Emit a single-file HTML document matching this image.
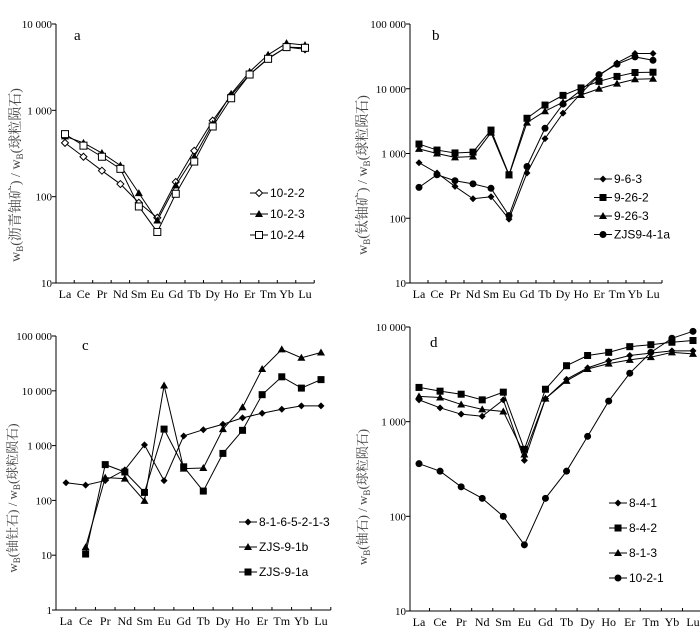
<!DOCTYPE html>
<html><head><meta charset="utf-8">
<style>
html,body{margin:0;padding:0;background:#fff;}
svg{display:block;font-family:"Liberation Serif","Noto Serif CJK SC",serif;}
</style></head>
<body>
<svg id="chart" width="700" height="636" viewBox="0 0 700 636" xmlns="http://www.w3.org/2000/svg"></svg>
<script>
const categories = ["La","Ce","Pr","Nd","Sm","Eu","Gd","Tb","Dy","Ho","Er","Tm","Yb","Lu"];

// Panel a
const a_names = ["10-2-2","10-2-3","10-2-4"];
const a_s1 = [420,290,200,140,85,57,148,340,760,1500,2600,4000,5400,5100];
const a_s2 = [500,420,320,230,110,53,135,290,700,1550,2800,4400,6000,5700];
const a_s3 = [530,390,290,210,77,39,108,255,650,1380,2600,3950,5400,5300];
const a_ticks = ["10","100","1 000","10 000"];

// Panel b
const b_names = ["9-6-3","9-26-2","9-26-3","ZJS9-4-1a"];
const b_s1 = [720,500,310,200,215,97,500,1700,4200,8500,16000,25000,35000,35000];
const b_s2 = [1400,1130,1020,1050,2300,470,3500,5600,7900,10300,13000,15500,17800,18000];
const b_s3 = [1180,1000,870,900,2100,460,3000,4500,6200,8000,10000,12000,14000,14300];
const b_s4 = [300,470,380,340,290,110,630,2450,5800,9500,16500,24000,31000,27500];
const b_ticks = ["10","100","1 000","10 000","100 000"];

// Panel c
const c_names = ["8-1-6-5-2-1-3","ZJS-9-1b","ZJS-9-1a"];
const c_s1 = [210,190,230,360,1030,230,1500,1950,2450,3200,3900,4600,5300,5300];
const c_s2 = [null,14,260,250,98,12500,380,390,2000,5000,25000,57000,40000,50000];
const c_s3 = [null,10.5,450,330,140,2000,410,148,720,1900,8500,18000,11200,16000];
const c_ticks = ["1","10","100","1 000","10 000","100 000"];

// Panel d
const d_names = ["8-4-1","8-4-2","8-1-3","10-2-1"];
const d_s1 = [1700,1400,1200,1140,1700,390,1750,2800,3700,4400,5000,5300,5600,5600];
const d_s2 = [2300,2100,1950,1700,2050,510,2200,3900,5000,5400,6200,6500,6900,7200];
const d_s3 = [1850,1800,1520,1350,1280,450,1750,2700,3600,4100,4500,4800,5400,5200];
const d_s4 = [360,300,205,155,100,50,155,300,700,1650,3250,5400,7600,9000];
const d_ticks = ["10","100","1 000","10 000"];

const NS = "http://www.w3.org/2000/svg";
const svg = document.getElementById("chart");
function mk(tag, attrs, parent){
  const e = document.createElementNS(NS, tag);
  for (const k in attrs) e.setAttribute(k, attrs[k]);
  (parent||svg).appendChild(e);
  return e;
}
function marker(g, type, x, y){
  let m;
  if (type==="diamond") m = mk("polygon",{points:`${x},${y-3.5} ${x+3.5},${y} ${x},${y+3.5} ${x-3.5},${y}`,fill:"#000"},g);
  else if (type==="odiamond") m = mk("polygon",{points:`${x},${y-3.5} ${x+3.5},${y} ${x},${y+3.5} ${x-3.5},${y}`,fill:"#fff",stroke:"#000","stroke-width":1},g);
  else if (type==="tri") m = mk("polygon",{points:`${x},${y-4} ${x+4},${y+3} ${x-4},${y+3}`,fill:"#000"},g);
  else if (type==="square") m = mk("rect",{x:x-3.5,y:y-3.5,width:7,height:7,fill:"#000"},g);
  else if (type==="osquare") m = mk("rect",{x:x-3.5,y:y-3.5,width:7,height:7,fill:"#fff",stroke:"#000","stroke-width":1},g);
  else m = mk("circle",{cx:x,cy:y,r:3.5,fill:"#000"},g);
  
  
}

function panel(p){
  const g = mk("g",{});
  
  
  const dec = p.ticks.length - 1;
  const minExp = Math.log10(parseFloat(p.ticks[0].replace(/ /g,"")));
  const yS = v => p.yBot - (Math.log10(v) - minExp) / dec * (p.yBot - p.yTop);
  const step = (p.xLu - p.xLa) / (categories.length - 1);
  const xS = i => p.xLa + i * step;
  const xEnd = p.xLu + step/2;
  const ya = mk("line",{x1:p.ax,y1:p.yTop,x2:p.ax,y2:p.yBot,stroke:"#000","stroke-width":1},g);
   
  const xa = mk("line",{x1:p.ax,y1:p.yBot,x2:xEnd,y2:p.yBot,stroke:"#000","stroke-width":1},g);
   
  p.ticks.forEach((t,i)=>{
    const y = p.yBot - i/dec*(p.yBot-p.yTop);
    mk("line",{x1:p.ax-4,y1:y,x2:p.ax,y2:y,stroke:"#000"},g);
    const tx = mk("text",{x:p.ax-4,y:y+4,"text-anchor":"end","font-size":11},g);
    tx.textContent = t;
     
  });
  categories.forEach((c,i)=>{
    const bx = xS(i)+step/2;
    mk("line",{x1:bx,y1:p.yBot-3,x2:bx,y2:p.yBot,stroke:"#000"},g);
    const tx = mk("text",{x:xS(i),y:p.yBot+15,"text-anchor":"middle","font-size":12},g);
    tx.textContent = c;
     
  });
  const lt = mk("text",{x:p.lx,y:p.ly,"font-size":15},g);
  lt.textContent = p.letter;
   
  const yt = mk("text",{x:0,y:0,"text-anchor":"middle","font-size":p.tfs,fill:"#444",transform:`translate(${p.tx},${p.ty}) rotate(-90)`},g);
  yt.innerHTML = `w<tspan font-size="9" dy="3">B</tspan><tspan dy="-3">(${p.mineral}) / w</tspan><tspan font-size="9" dy="3">B</tspan><tspan dy="-3">(球粒陨石)</tspan>`;
   
  p.series.forEach((s,k)=>{
    const sg = mk("g",{},g);
    
    
    let d = "", started=false;
    s.forEach((v,i)=>{ if(v==null) return; d += (started?"L":"M")+xS(i)+","+yS(v); started=true; });
    mk("path",{d:d,fill:"none",stroke:"#000","stroke-width":1},sg);
    s.forEach((v,i)=>{ if(v!=null) marker(sg,p.markers[k],xS(i),yS(v)); });
    const ly = p.legY + k*p.legGap;
    const lg = mk("g",{},g);
    
    
    mk("line",{x1:p.legX,y1:ly,x2:p.legX+18,y2:ly,stroke:"#000"},lg);
    marker(lg,p.markers[k],p.legX+9,ly);
    const lt2 = mk("text",{x:p.legX+20,y:ly+4,"font-size":12,"font-family":"Liberation Sans, sans-serif"},lg);
    lt2.textContent = p.names[k];
  });
}

panel({letter:"a",ax:56,yTop:24,yBot:283,xLa:65,xLu:305,ticks:a_ticks,lx:74,ly:40,tx:20,ty:175,tfs:14,mineral:"沥青铀矿",
  series:[a_s1,a_s2,a_s3],names:a_names,markers:["odiamond","tri","osquare"],legX:250,legY:193,legGap:21});
panel({letter:"b",ax:410,yTop:24,yBot:283,xLa:419,xLu:653,ticks:b_ticks,lx:432,ly:40,tx:367,ty:175,tfs:14,mineral:"钛铀矿",
  series:[b_s1,b_s2,b_s3,b_s4],names:b_names,markers:["diamond","square","tri","circle"],legX:594,legY:179,legGap:18.5});
panel({letter:"c",ax:56,yTop:336,yBot:610,xLa:66,xLu:321,ticks:c_ticks,lx:82,ly:350,tx:17,ty:498,tfs:13,mineral:"铀钍石",
  series:[c_s1,c_s2,c_s3],names:c_names,markers:["diamond","tri","square"],legX:239,legY:522,legGap:25});
panel({letter:"d",ax:410,yTop:327,yBot:611,xLa:419,xLu:693,ticks:d_ticks,lx:430,ly:347,tx:367,ty:497,tfs:13,mineral:"铀石",
  series:[d_s1,d_s2,d_s3,d_s4],names:d_names,markers:["diamond","square","tri","circle"],legX:609,legY:503,legGap:25});
</script>
</body></html>
